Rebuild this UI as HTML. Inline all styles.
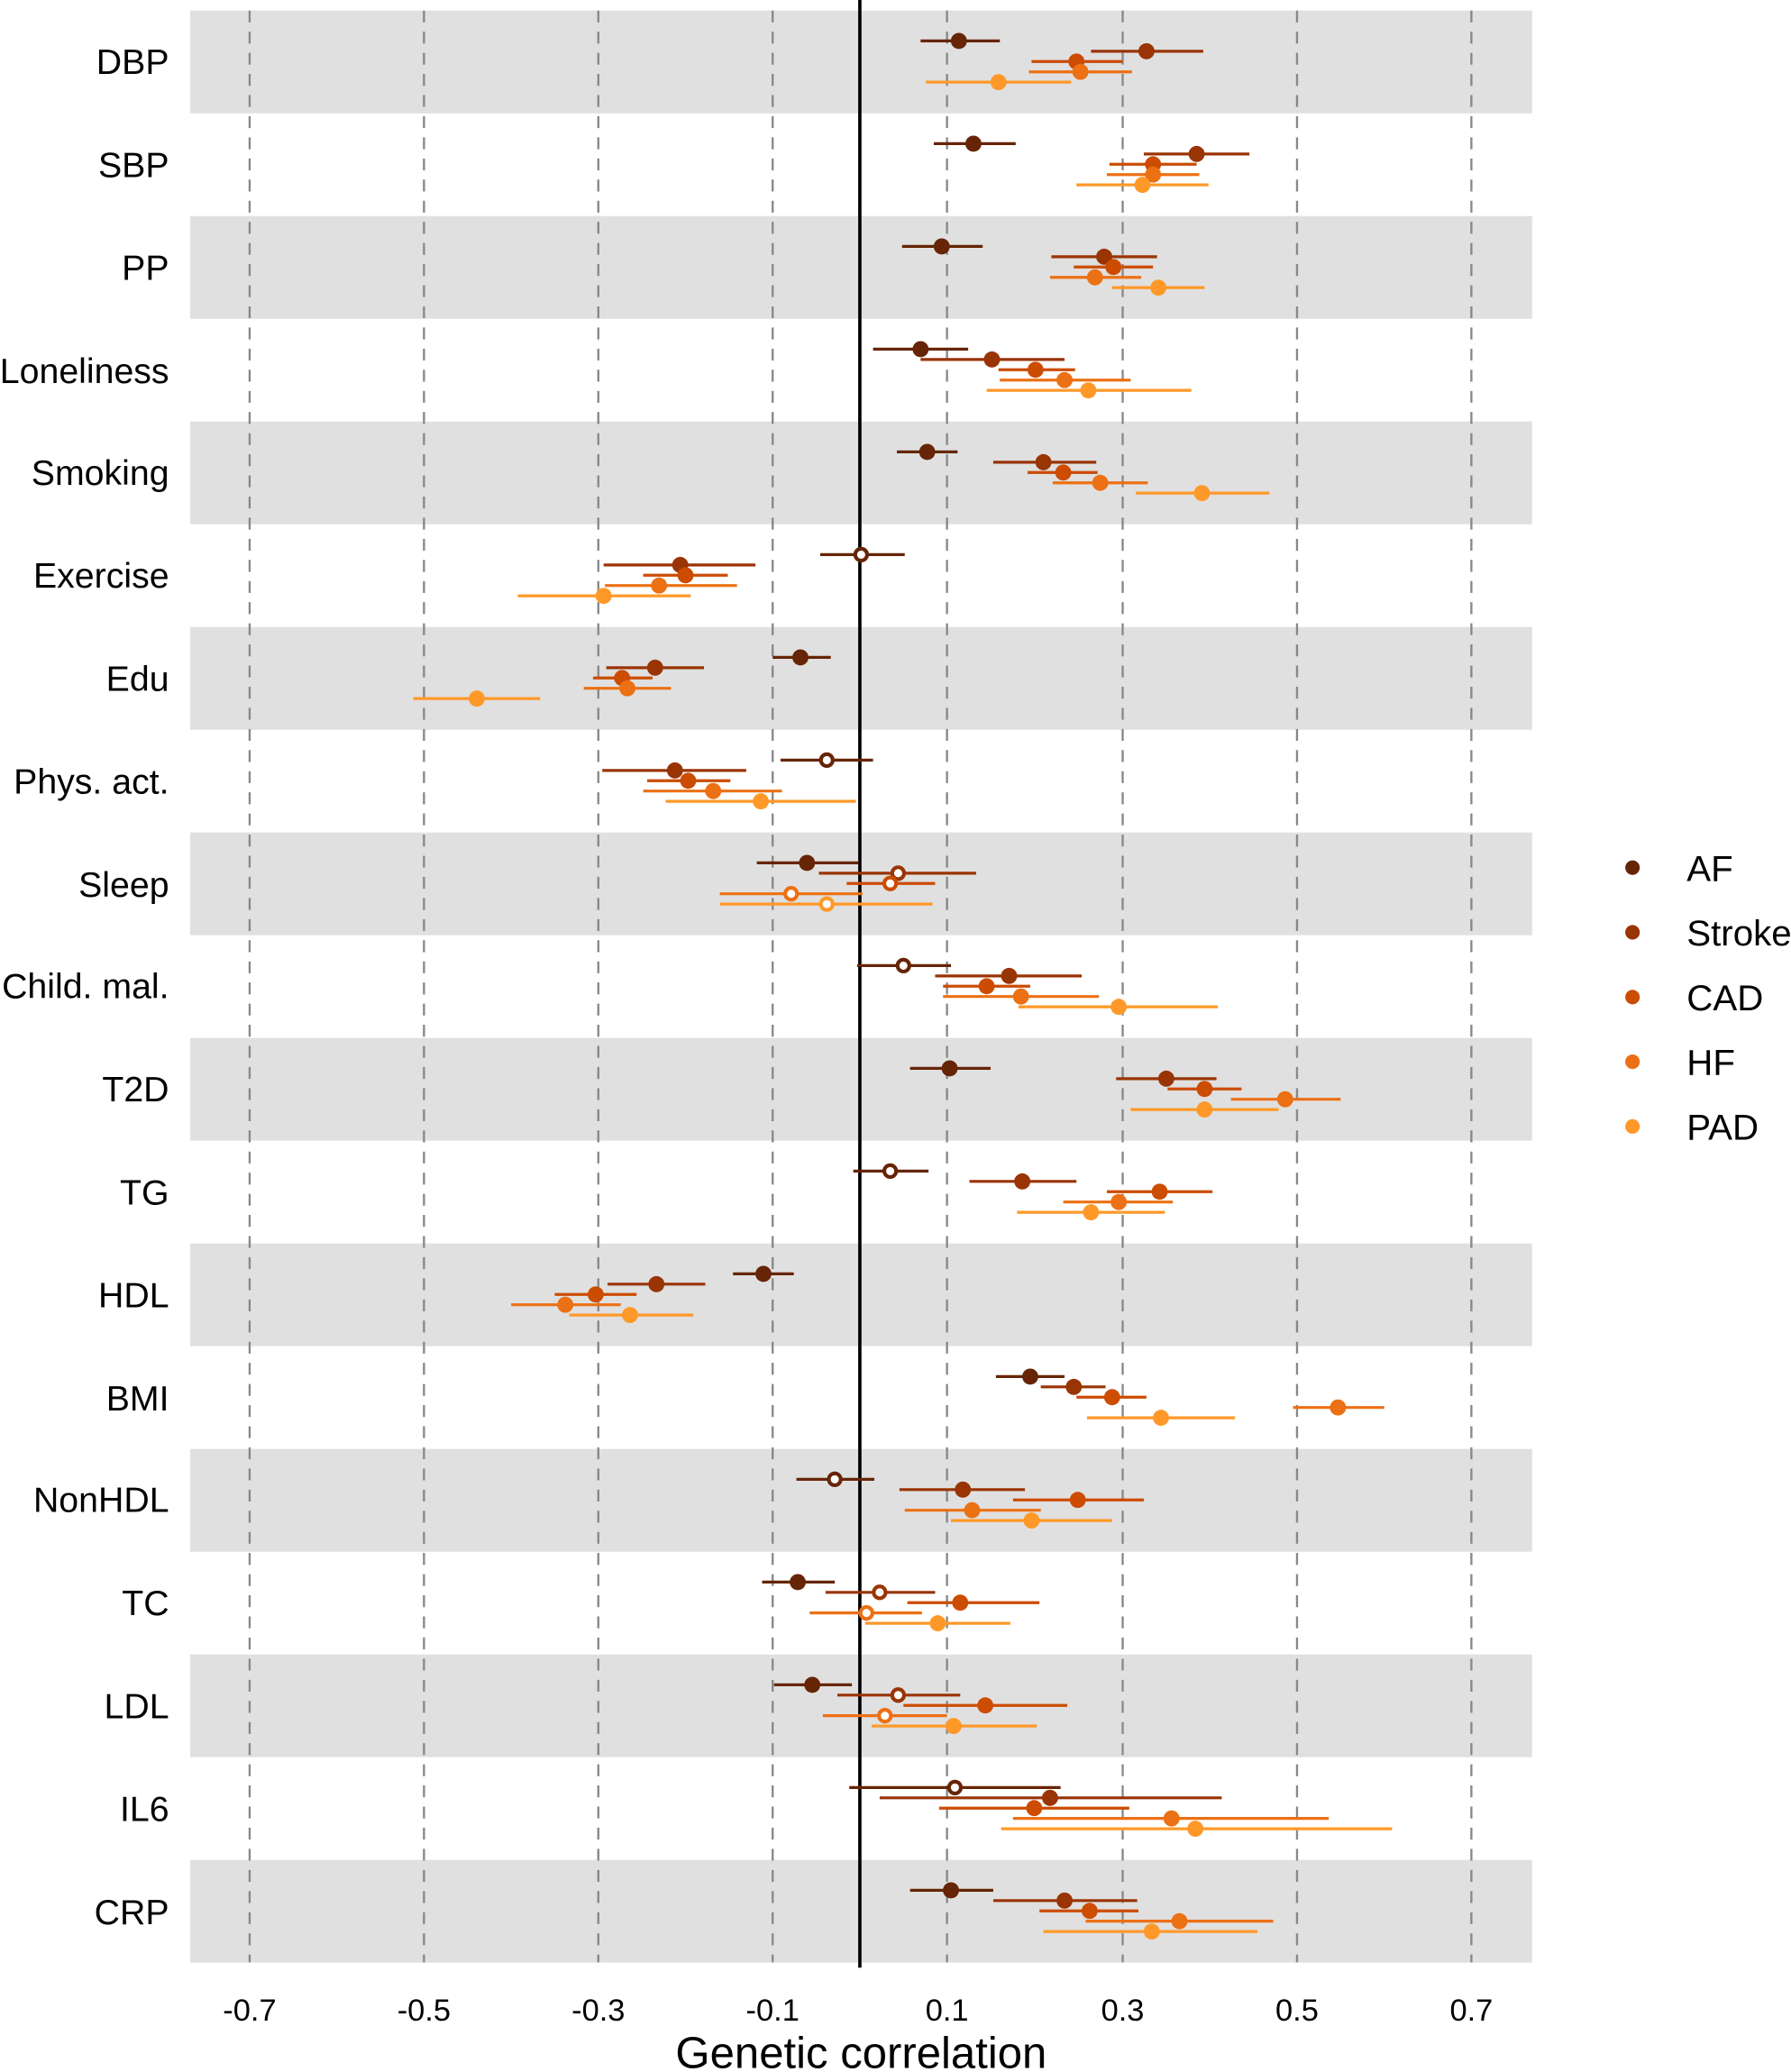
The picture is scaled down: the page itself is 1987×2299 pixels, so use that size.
<!DOCTYPE html>
<html><head><meta charset="utf-8"><style>
html,body{margin:0;padding:0;background:#fff}
svg{display:block}
text{font-family:"Liberation Sans",Arial,sans-serif;fill:#000}
</style></head><body>
<svg id="s" width="1987" height="2299" viewBox="0 0 1356 1569" preserveAspectRatio="none" xmlns="http://www.w3.org/2000/svg">
<g id="bands"></g>
<g stroke="#888" stroke-width="1.6" stroke-dasharray="9,7">
<line x1="189" y1="8" x2="189" y2="1486"/><line x1="321" y1="8" x2="321" y2="1486"/><line x1="453" y1="8" x2="453" y2="1486"/><line x1="585" y1="8" x2="585" y2="1486"/><line x1="717" y1="8" x2="717" y2="1486"/><line x1="850" y1="8" x2="850" y2="1486"/><line x1="982" y1="8" x2="982" y2="1486"/><line x1="1114" y1="8" x2="1114" y2="1486"/>
</g>
<line x1="651" y1="0" x2="651" y2="1490" stroke="#000" stroke-width="2.5"/>
<g id="pts"></g>
<g font-size="26.8" text-anchor="end">
<text x="128" y="56">DBP</text><text x="128" y="134">SBP</text><text x="128" y="212">PP</text><text x="128" y="290">Loneliness</text><text x="128" y="367">Smoking</text><text x="128" y="445">Exercise</text><text x="128" y="523">Edu</text><text x="128" y="601">Phys. act.</text><text x="128" y="679">Sleep</text><text x="128" y="756">Child. mal.</text><text x="128" y="834">T2D</text><text x="128" y="912">TG</text><text x="128" y="990">HDL</text><text x="128" y="1068">BMI</text><text x="128" y="1145">NonHDL</text><text x="128" y="1223">TC</text><text x="128" y="1301">LDL</text><text x="128" y="1379">IL6</text><text x="128" y="1457">CRP</text>
</g>
<g font-size="23.5" text-anchor="middle">
<text x="189" y="1530">-0.7</text><text x="321" y="1530">-0.5</text><text x="453" y="1530">-0.3</text><text x="585" y="1530">-0.1</text><text x="717" y="1530">0.1</text><text x="850" y="1530">0.3</text><text x="982" y="1530">0.5</text><text x="1114" y="1530">0.7</text>
</g>
<text x="652" y="1566" font-size="33.5" text-anchor="middle">Genetic correlation</text>
<g font-size="27.5">
<circle cx="1236" cy="657" r="5.5" fill="#662506"/><text x="1277" y="667">AF</text>
<circle cx="1236" cy="706" r="5.5" fill="#993404"/><text x="1277" y="716">Stroke</text>
<circle cx="1236" cy="755" r="5.5" fill="#cc4c02"/><text x="1277" y="765">CAD</text>
<circle cx="1236" cy="804" r="5.5" fill="#ec7014"/><text x="1277" y="814">HF</text>
<circle cx="1236" cy="853" r="5.5" fill="#fe9929"/><text x="1277" y="863">PAD</text>
</g>
</svg>
<script>
var C=["#662506","#993404","#cc4c02","#ec7014","#fe9929"];
var D=[
[[726,697,757],[868,826,911],[815,781,850],[818,779,857],[756,701,811]],
[[737,707,769],[906,866,946],[873,840,906],[873,838,908],[865,815,915]],
[[713,683,744],[836,796,876],[843,813,873],[829,795,864],[877,842,912]],
[[697,661,733],[751,697,806],[784,756,814],[806,757,856],[824,747,902]],
[[702,679,725],[790,752,830],[805,778,831],[833,797,869],[910,860,961]],
[[652,621,685,1],[515,457,572],[519,487,551],[499,458,558],[457,392,523]],
[[606,585,629],[496,459,533],[471,449,494],[475,442,508],[361,313,409]],
[[626,591,661,1],[511,456,565],[521,490,553],[540,487,592],[576,504,648]],
[[611,573,650],[680,620,739,1],[674,641,708,1],[599,545,653,1],[626,545,706,1]],
[[684,649,720,1],[764,708,819],[747,714,780],[773,714,832],[847,771,922]],
[[719,689,750],[883,845,921],[912,884,940],[973,932,1015],[912,856,968]],
[[674,646,703,1],[774,734,815],[878,838,918],[847,805,888],[826,770,882]],
[[578,555,601],[497,460,534],[451,420,482],[428,387,470],[477,431,525]],
[[780,754,806],[813,788,837],[842,815,868],[1013,979,1048],[879,823,935]],
[[632,603,662,1],[729,681,776],[816,767,866],[736,685,788],[781,720,842]],
[[604,577,632],[666,625,708,1],[727,687,787],[656,613,698,1],[710,655,765]],
[[615,586,645],[680,634,727,1],[746,684,808],[670,623,717,1],[722,660,785]],
[[723,643,803,1],[795,666,925],[783,711,855],[887,767,1006],[905,758,1054]],
[[720,689,752],[806,752,861],[825,787,862],[893,822,964],[872,790,952]]];
var ns="http://www.w3.org/2000/svg",b=document.getElementById("bands"),p=document.getElementById("pts");
function el(t,a,g){var e=document.createElementNS(ns,t);for(var k in a)e.setAttribute(k,a[k]);g.appendChild(e);}
for(var i=0;i<19;i++){var c=47+i*77.8;
if(i%2==0)el("rect",{x:144,y:c-39,width:1016,height:77.8,fill:"#e0e0e0"},b);
for(var j=0;j<5;j++){var d=D[i][j],y=c-16+j*7.8;
el("line",{x1:d[1],x2:d[2],y1:y,y2:y,stroke:C[j],"stroke-width":2.2},p);
if(d[3])el("circle",{cx:d[0],cy:y,r:4.5,fill:"#fff",stroke:C[j],"stroke-width":2.8},p);
else el("circle",{cx:d[0],cy:y,r:6.1,fill:C[j]},p);}}
</script>
</body></html>
